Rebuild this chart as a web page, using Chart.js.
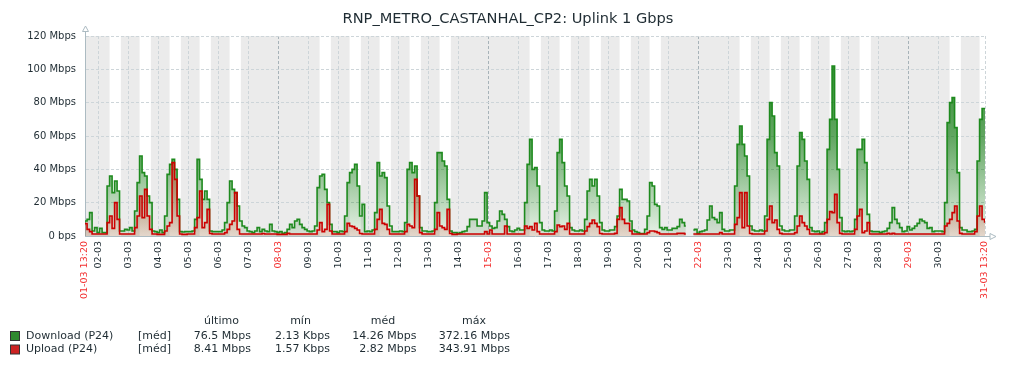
<!DOCTYPE html>
<html><head><meta charset="utf-8">
<script src="https://cdn.jsdelivr.net/npm/chart.js@4.4.1/dist/chart.umd.min.js"></script>
<style>html,body{margin:0;padding:0;background:#fff;}</style>
</head><body>
<canvas id="c" width="1016" height="368"></canvas>
<script>
const chartTitle = 'RNP_METRO_CASTANHAL_CP2: Uplink 1 Gbps';
const startHour = 13 + 20 / 60;          // 01-03 13:20, hours since 01-03 00:00
const endHour = 30 * 24 + startHour;     // 31-03 13:20
const firstSampleHour = 12;              // first sample: 01-03 12:00
const sampleStepHours = 2;

// Download (Mbps), one sample every 2 h
const downloadWeek1 = [
  8, 9, 10, 14, 3, 5,
  2, 4.6, 2, 2, 30, 36, 26, 33, 27, 3, 3, 4,
  3.6, 5, 3, 15, 32, 48, 38, 36, 24, 20, 3, 2.6,
  2, 3.6, 2, 12, 37, 43, 46, 40, 22, 2.6, 2.4, 2.6,
  2.6, 2.6, 3, 10, 46, 34, 22, 27, 22, 3, 2.6, 2.6,
  2.6, 2.6, 3.6, 8, 20, 33, 28, 26, 18, 9, 6, 5,
  3, 2.6, 2, 3, 5, 2.6, 4, 3, 2.6, 7, 3, 2.6
];
const downloadWeek2 = [
  2, 2.6, 1.6, 2, 4, 7, 5, 9, 10, 7, 5, 4,
  3, 2.6, 3, 6, 29, 36, 37, 28, 20, 7, 2.6, 2.6,
  2, 3, 2.6, 12, 32, 38, 40, 43, 30, 12, 19, 2.6,
  3, 2.6, 3.6, 14, 44, 36, 38, 35, 18, 6, 2.6, 2.6,
  2.6, 3, 2.6, 8, 40, 44, 38, 42, 24, 5, 3, 3,
  2.6, 2.6, 3, 20, 50, 50, 45, 42, 22, 3, 2, 2,
  1.6, 2, 2.6, 3, 5.6, 10, 10, 10, 6, 6, 9, 26
];
const downloadWeek3 = [
  8, 6, 4.6, 5, 9, 15, 13, 10, 5.6, 3, 2.6, 3.6,
  4.6, 3.6, 3.6, 20, 43, 58, 40, 41, 30, 8, 3.6, 3,
  3, 3.6, 3, 15, 50, 58, 44, 30, 24, 5, 3.6, 3,
  3, 3.6, 3, 10, 27, 34, 30, 34, 24, 8, 3.6, 3,
  3, 3.6, 3.6, 5.6, 12, 28, 22, 22, 21, 9, 3.6, 2.6,
  2, 1.5, 1.5, 4, 12, 32, 30, 19, 18, 5, 4, 5,
  3.6, 3.6, 4.6, 4.6, 5.6, 10, 8, 6, null, null, 3.6, 4
];
const downloadWeek4 = [
  1.6, 2.6, 3, 3.6, 9.6, 18, 11, 10, 8, 14, 4, 3,
  3, 3.6, 3.6, 30, 55, 66, 55, 48, 36, 6, 3.6, 3,
  3, 3.6, 3, 12, 58, 80, 72, 50, 42, 6, 3.6, 3,
  3, 3.6, 3.6, 12, 42, 62, 58, 45, 34, 5, 3, 2.6,
  3, 1.6, 2.6, 8, 52, 70, 102, 70, 40, 11, 3, 2.6,
  3, 2.6, 3, 10, 52, 52, 58, 44, 13, 3, 2.6, 2.6,
  2.6, 2, 2.6, 3, 4.6, 8, 17, 10, 7.6, 5, 2.6, 3
];
const downloadWeek5 = [
  5.6, 3.6, 4.6, 6, 7.6, 10, 9, 8, 4.6, 5, 2.6, 3,
  3, 3, 2.6, 20, 68, 80, 83, 65, 38, 5, 3.6, 3.6,
  2.6, 2.6, 3, 4, 45, 70, 76.5, 76.5
];

// Upload (Mbps), same sampling
const uploadWeek1 = [
  7, 7.5, 4, 2.6, 1.2, 1.2,
  1.2, 1.2, 1.2, 1.2, 8, 12, 4.6, 20, 10, 1.2, 1.2, 1.2,
  1.2, 1.2, 1.2, 5, 12, 24, 11, 28, 12, 4, 1.2, 1.2,
  1, 1, 1, 3, 6, 8, 44, 34, 12, 1.2, 1, 1,
  1.2, 1.2, 1.2, 5, 11, 27, 5, 8, 16, 1.5, 1.2, 1.2,
  1.2, 1.2, 1.2, 2, 4, 7, 9, 26, 4, 1.2, 1.2, 1.2,
  1.2, 1.2, 1.2, 1.2, 1.2, 1.2, 1.5, 1.2, 1.2, 1.2, 1.2, 1.2
];
const uploadWeek2 = [
  1, 1, 1, 1, 1.6, 1.2, 1.2, 1.2, 1.2, 1.2, 1.2, 1.2,
  1.2, 1.2, 1.2, 1.2, 3.6, 8, 2.6, 4, 19, 3, 1.2, 1.2,
  1.2, 1.2, 1.2, 2.6, 7.6, 6, 5.6, 4.6, 3.6, 1.5, 1.2, 1.2,
  1.2, 1.2, 1.2, 4, 10, 16, 7.6, 7, 4, 1.2, 1.2, 1.2,
  1.2, 1.2, 1.2, 2.6, 7, 6, 5, 34, 24, 2, 1.2, 1.2,
  1.2, 1.2, 1.2, 4, 14, 6, 5, 4, 16, 1.5, 1, 1,
  1.2, 1.2, 1.2, 1.2, 1.2, 1.2, 1.2, 1.2, 1.2, 1.2, 1.2, 2.6
];
const uploadWeek3 = [
  1.2, 3.6, 1.2, 1.2, 1.2, 1.2, 1.2, 6, 1.2, 1.2, 1.2, 1.2,
  1.2, 1.2, 1.2, 6, 4.6, 5.6, 3.6, 7.6, 2.6, 1.2, 1.2, 1.2,
  1.2, 1.2, 1.2, 2.6, 6.6, 5.6, 6, 4, 7.6, 1.2, 1.2, 1.2,
  1.2, 1.2, 1.2, 3, 5.6, 7.6, 9.6, 7.6, 5.6, 1.5, 1.2, 1.2,
  1.2, 1.2, 1.2, 1.6, 10, 17, 10, 7.6, 7.6, 3, 1.2, 1.2,
  1.2, 1.2, 1.2, 1.2, 2, 3, 3, 2.6, 2, 1.2, 1.2, 1.2,
  1.2, 1.2, 1.2, 1.2, 1.6, 1.6, 1.6, 1.2, null, null, 1.2, 1.2
];
const uploadWeek4 = [
  1.2, 1.2, 1.2, 1.2, 1.2, 1.2, 1.2, 1.2, 1.2, 2, 1.2, 1.2,
  1.2, 1.2, 1.2, 7, 11, 26, 5, 26, 6, 1.5, 1.2, 1.2,
  1.2, 1.2, 1.2, 3, 10, 18, 8, 9.6, 4, 1.6, 1.2, 1.2,
  1.2, 1.2, 1.2, 2, 6, 12, 8, 6, 4, 1.2, 1.2, 1.2,
  1.2, 1.2, 1.2, 2, 10, 14.6, 14, 25, 8, 1.6, 1.2, 1.2,
  1.2, 1.2, 1.2, 4, 12, 16, 2, 3, 8, 1.2, 1.2, 1.2,
  1.2, 1.2, 1.2, 1.2, 1.6, 1.2, 1.6, 1.2, 1.2, 1.2, 1.2, 1.2
];
const uploadWeek5 = [
  1.2, 1.2, 1.2, 1.2, 1.2, 1.2, 1.2, 1.2, 1.2, 1.2, 1.2, 1.2,
  1.2, 1.2, 1.2, 6, 7.6, 10, 14, 18, 9, 1.6, 1.2, 1.2,
  1.2, 1.2, 1.2, 2.6, 12, 18, 10, 8.41
];

const downloadMbps = [...downloadWeek1, ...downloadWeek2, ...downloadWeek3, ...downloadWeek4, ...downloadWeek5];
const uploadMbps = [...uploadWeek1, ...uploadWeek2, ...uploadWeek3, ...uploadWeek4, ...uploadWeek5];

const tickLabels = ['01-03 13:20', '02-03', '03-03', '04-03', '05-03', '06-03', '07-03', '08-03', '09-03', '10-03',
  '11-03', '12-03', '13-03', '14-03', '15-03', '16-03', '17-03', '18-03', '19-03', '20-03', '21-03', '22-03',
  '23-03', '24-03', '25-03', '26-03', '27-03', '28-03', '29-03', '30-03', '31-03 13:20'];
const sundayDays = [1, 8, 15, 22, 29];
const workingDays = [2, 3, 4, 5, 6, 9, 10, 11, 12, 13, 16, 17, 18, 19, 20, 23, 24, 25, 26, 27, 30, 31];
const workStartHour = 9, workEndHour = 18;
const yMax = 120, yStep = 20;

const legendHeaders = ['último', 'mín', 'méd', 'máx'];
const legendNames = ['Download (P24)', 'Upload (P24)'];
const legendFunc = ['[méd]', '[méd]'];
const legendLast = ['76.5 Mbps', '8.41 Mbps'];
const legendMin = ['2.13 Kbps', '1.57 Kbps'];
const legendAvg = ['14.26 Mbps', '2.82 Mbps'];
const legendMax = ['372.16 Mbps', '343.91 Mbps'];

const TEXT = '#1f2c33';
const RED_TXT = '#f23030';
const AXIS = '#acbbc2';
const GREEN_LINE = '#1e8a1e';
const RED_LINE = '#cc0000';
const FONT = "'DejaVu Sans', sans-serif";

const tickHours = tickLabels.map((l, i) => i === 0 ? startHour : (i === tickLabels.length - 1 ? endHour : (parseInt(l, 10) - 1) * 24));
const dayOf = h => Math.floor(h / 24) + 1;
const isRedTick = i => i === 0 || i === tickLabels.length - 1 || sundayDays.includes(dayOf(tickHours[i]));
const toPoints = arr => arr.map((v, i) => ({ x: firstSampleHour + i * sampleStepHours, y: v }));

function gradientFill(rgb, stops) {
  return (c) => {
    const { chart } = c;
    const a = chart.chartArea;
    if (!a) return `rgba(${rgb},0.3)`;
    const g = chart.ctx.createLinearGradient(0, a.top, 0, a.bottom);
    g.addColorStop(0, `rgba(${rgb},${stops[0]})`);
    g.addColorStop(0.5, `rgba(${rgb},${stops[1]})`);
    g.addColorStop(1, `rgba(${rgb},${stops[2]})`);
    return g;
  };
}

const bandsPlugin = {
  id: 'bands',
  beforeDraw(chart) {
    const { ctx, chartArea: a, scales: { x } } = chart;
    ctx.save();
    ctx.fillStyle = '#ebebeb';
    ctx.fillRect(a.left, a.top, a.width, a.height);
    ctx.fillStyle = '#ffffff';
    workingDays.forEach(d => {
      const h0 = Math.max((d - 1) * 24 + workStartHour, startHour);
      const h1 = Math.min((d - 1) * 24 + workEndHour, endHour);
      if (h1 <= h0) return;
      const x0 = x.getPixelForValue(h0), x1 = x.getPixelForValue(h1);
      ctx.fillRect(x0, a.top, x1 - x0, a.height);
    });
    ctx.restore();
  }
};

const overlayPlugin = {
  id: 'overlay',
  afterDraw(chart) {
    const { ctx, chartArea: a } = chart;
    ctx.save();
    // title
    ctx.fillStyle = TEXT;
    ctx.font = `14.6px ${FONT}`;
    ctx.textAlign = 'center';
    ctx.textBaseline = 'middle';
    ctx.fillText(chartTitle, chart.width / 2, 19);
    // axis arrows
    ctx.strokeStyle = AXIS;
    ctx.lineWidth = 1;
    ctx.beginPath();
    ctx.moveTo(a.left + 0.5, a.top); ctx.lineTo(a.left + 0.5, a.top - 5);
    ctx.moveTo(a.right, a.bottom + 0.5); ctx.lineTo(a.right + 5, a.bottom + 0.5);
    ctx.stroke();
    ctx.beginPath();
    ctx.moveTo(a.left + 0.5, a.top - 10); ctx.lineTo(a.left - 2.5, a.top - 4.5); ctx.lineTo(a.left + 3.5, a.top - 4.5); ctx.closePath();
    ctx.fillStyle = '#fff'; ctx.fill(); ctx.stroke();
    ctx.beginPath();
    ctx.moveTo(a.right + 11, a.bottom + 0.5); ctx.lineTo(a.right + 5, a.bottom - 2.5); ctx.lineTo(a.right + 5, a.bottom + 3.5); ctx.closePath();
    ctx.fill(); ctx.stroke();
    // legend
    ctx.font = `11px ${FONT}`;
    ctx.fillStyle = TEXT;
    ctx.textBaseline = 'middle';
    const colRight = [251, 330, 416.5, 510];
    const colCenter = [221.5, 300.5, 383, 474];
    ctx.textAlign = 'center';
    legendHeaders.forEach((h, i) => ctx.fillText(h, colCenter[i], 321.5));
    const rowsY = [336, 349.5];
    const boxColors = ['#2f8a2f', '#cc2222'];
    const cols = [legendLast, legendMin, legendAvg, legendMax];
    rowsY.forEach((y, r) => {
      ctx.fillStyle = boxColors[r];
      ctx.fillRect(10.5, y - 4.5, 9, 9);
      ctx.strokeStyle = '#333';
      ctx.strokeRect(10.5, y - 4.5, 9, 9);
      ctx.fillStyle = TEXT;
      ctx.textAlign = 'left';
      ctx.fillText(legendNames[r], 26, y);
      ctx.fillText(legendFunc[r], 138, y);
      ctx.textAlign = 'right';
      cols.forEach((col, i) => ctx.fillText(col[r], colRight[i], y));
    });
    ctx.restore();
  }
};

new Chart(document.getElementById('c'), {
  type: 'line',
  data: {
    datasets: [
      {
        label: legendNames[0], data: toPoints(downloadMbps),
        borderColor: GREEN_LINE, borderWidth: 1.6,
        backgroundColor: gradientFill('30,128,30', [0.98, 0.7, 0.1]),
        fill: 'origin', stepped: 'middle', pointRadius: 0, spanGaps: false, order: 2
      },
      {
        label: legendNames[1], data: toPoints(uploadMbps),
        borderColor: RED_LINE, borderWidth: 1.6,
        backgroundColor: gradientFill('200,20,0', [0.9, 0.55, 0.12]),
        fill: 'origin', stepped: 'middle', pointRadius: 0, spanGaps: false, order: 1
      }
    ]
  },
  options: {
    responsive: false, animation: false, devicePixelRatio: 1,
    layout: { padding: { top: 36, right: 31, left: 0, bottom: 0 } },
    plugins: { legend: { display: false }, tooltip: { enabled: false }, title: { display: false } },
    scales: {
      x: {
        type: 'linear', min: startHour, max: endHour,
        afterBuildTicks: s => { s.ticks = tickHours.map(v => ({ value: v })); },
        afterFit: s => { s.height = 132; },
        ticks: {
          autoSkip: false, minRotation: 90, maxRotation: 90, padding: 5,
          font: { size: 9.5, family: FONT },
          color: c => isRedTick(c.index) ? RED_TXT : TEXT,
          callback: (v, i) => tickLabels[i]
        },
        grid: {
          drawTicks: false, lineWidth: 1,
          color: c => (c.tick && c.index > 0 && c.index < tickLabels.length - 1 && sundayDays.includes(dayOf(c.tick.value))) ? '#a7b3b9' : '#cdd5d9'
        },
        border: { display: true, color: AXIS, width: 1, dash: [3, 2] }
      },
      y: {
        min: 0, max: yMax,
        afterFit: s => { s.width = 85; },
        ticks: {
          stepSize: yStep, padding: 9, color: TEXT,
          font: { size: 10, family: FONT },
          callback: v => v === 0 ? '0 bps' : v + ' Mbps'
        },
        grid: { drawTicks: false, color: '#cdd5d9', lineWidth: 1 },
        border: { display: true, color: AXIS, width: 1, dash: [3, 2] }
      }
    }
  },
  plugins: [bandsPlugin, overlayPlugin]
});
</script>
</body></html>
